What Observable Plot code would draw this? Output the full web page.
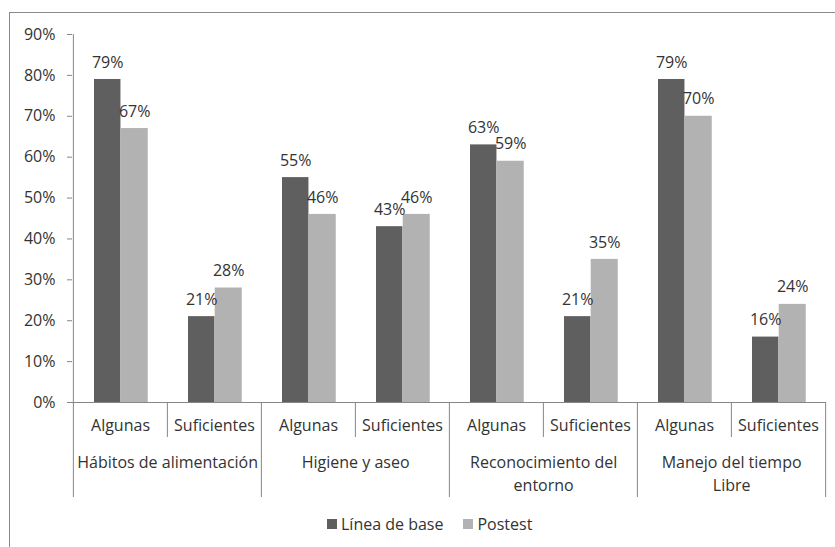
<!DOCTYPE html>
<html>
<head>
<meta charset="utf-8">
<script src="https://cdn.jsdelivr.net/npm/d3@7"></script>
<script src="https://cdn.jsdelivr.net/npm/@observablehq/plot@0.6"></script>
<style>
  html, body { margin: 0; padding: 0; background: #fff; }
  body { width: 835px; height: 547px; overflow: hidden; position: relative; font-family: "Open Sans", sans-serif; color: #333; }
  #frame { position: absolute; left: 9px; top: 12px; width: 900px; height: 600px; border-left: 1.5px solid #8a8a8a; border-top: 1.5px solid #8a8a8a; }
  #chart { position: absolute; left: 0; top: 0; }
  #legend { position: absolute; left: 327px; top: 513px; display: flex; align-items: center; font-size: 16px; line-height: 22px; }
  .item { display: flex; align-items: center; margin-right: 20px; }
  .sw { width: 10px; height: 10px; margin-right: 4px; }
</style>
</head>
<body>
<div id="frame"></div>
<div id="chart"></div>
<div id="legend"></div>
<script>
// ---- data ----
const groups = ["Hábitos de alimentación", "Higiene y aseo", "Reconocimiento del entorno", "Manejo del tiempo Libre"];
const groupLabels = ["Hábitos de alimentación", "Higiene y aseo", "Reconocimiento del\nentorno", "Manejo del tiempo\nLibre"];
const levels = ["Algunas", "Suficientes"];
const series = ["Línea de base", "Postest"];
const lineaBase = [79, 21, 55, 43, 63, 21, 79, 16];
const postest   = [67, 28, 46, 46, 59, 35, 70, 24];
const yTicks = [0, 10, 20, 30, 40, 50, 60, 70, 80, 90];

// ---- styles ----
const colors = ["#5f5f5f", "#b2b2b2"];
const axisGray = "#868686";
const textColor = "#333333";

const W = 835, H = 510, mL = 72, mR = 9, mT = 34, mB = 108;

const rows = [];
groups.forEach((g, gi) => levels.forEach((l, li) => {
  const i = gi * 2 + li;
  rows.push({key: g + "|" + l, group: g, label: groupLabels[gi], level: l, li, base: lineaBase[i], post: postest[i]});
}));
const keys = rows.map(d => d.key);
const bw = (W - mL - mR) / keys.length;

// bar positions within a band (pixels from band's left edge)
const b0 = 21, b1 = 47.7, b2 = 75;

const firstOfGroup = rows.filter(d => d.li === 0);
const secondOfGroup = rows.filter(d => d.li === 1);
const lastRow = [rows[rows.length - 1]];

const chart = Plot.plot({
  width: W, height: H,
  marginLeft: mL, marginRight: mR, marginTop: mT, marginBottom: mB,
  style: {fontFamily: "'Open Sans', sans-serif", fontSize: "16px", color: textColor, background: "transparent", overflow: "visible"},
  x: {domain: keys, padding: 0, axis: null},
  y: {domain: [0, 90], axis: null},
  marks: [
    Plot.barY(rows, {x: "key", y: "base", fill: colors[0], insetLeft: b0, insetRight: bw - b1}),
    Plot.barY(rows, {x: "key", y: "post", fill: colors[1], insetLeft: b1, insetRight: bw - b2}),
    Plot.text(rows, {x: "key", y: "base", text: d => d.base + "%", dx: (b0 + b1) / 2 - bw / 2, dy: -17, fill: textColor}),
    Plot.text(rows, {x: "key", y: "post", text: d => d.post + "%", dx: (b1 + b2) / 2 - bw / 2, dy: -17, fill: textColor}),
    // y axis
    Plot.axisY({ticks: yTicks, tickFormat: d => d + "%", tickSize: 5, tickPadding: 12, stroke: axisGray, fill: textColor, label: null}),
    Plot.ruleX(firstOfGroup.slice(0, 1), {x: "key", dx: -bw / 2, stroke: axisGray}),
    // x axis baseline
    Plot.ruleY([0], {stroke: axisGray}),
    // separators: group boundaries (long) and level boundaries (short)
    Plot.ruleX(firstOfGroup, {x: "key", y1: 0, y2: 0, dx: -bw / 2, stroke: axisGray, insetBottom: -95}),
    Plot.ruleX(lastRow, {x: "key", y1: 0, y2: 0, dx: bw / 2, stroke: axisGray, insetBottom: -95}),
    Plot.ruleX(secondOfGroup, {x: "key", y1: 0, y2: 0, dx: -bw / 2, stroke: axisGray, insetBottom: -35}),
    // category labels
    Plot.text(rows, {x: "key", text: "level", frameAnchor: "bottom", lineAnchor: "top", dy: 17, fill: textColor}),
    Plot.text(firstOfGroup, {x: "key", text: "label", frameAnchor: "bottom", lineAnchor: "top", dx: bw / 2, dy: 50, lineHeight: 1.4, fill: textColor})
  ]
});
document.getElementById("chart").appendChild(chart);

// legend
const legend = document.getElementById("legend");
series.forEach((s, i) => {
  const item = document.createElement("div");
  item.className = "item";
  const sw = document.createElement("div");
  sw.className = "sw";
  sw.style.background = colors[i];
  const t = document.createElement("span");
  t.textContent = s;
  item.appendChild(sw);
  item.appendChild(t);
  legend.appendChild(item);
});
</script>
</body>
</html>
